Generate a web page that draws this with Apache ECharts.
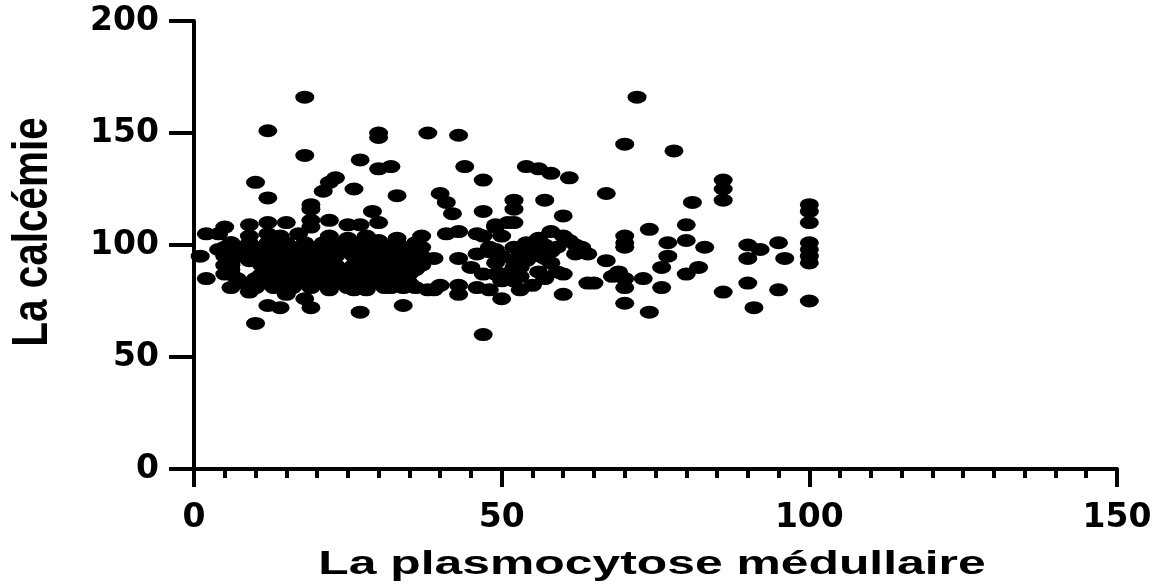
<!DOCTYPE html>
<html>
<head>
<meta charset="utf-8">
<script src="https://cdn.jsdelivr.net/npm/echarts@6/dist/echarts.min.js"></script>
<style>
  html, body { margin: 0; padding: 0; background: #fff; }
  #chart { width: 1163px; height: 587px; }
</style>
</head>
<body>
<div id="chart"></div>
<script>
// axis bounds
const xTicks = [0, 50, 100, 150]
const yTicks = [0, 50, 100, 150, 200]

const xTitle = 'La plasmocytose médullaire'
const yTitle = 'La calcémie'

// [plasmocytose médullaire, calcémie]
const mesuresDroite = [
  [72, 166], [70, 145], [78, 142], [54, 135], [56, 134], [58, 132], [61, 130], [47, 129],
  [86, 129], [86, 125], [86, 120], [67, 123], [81, 119], [52, 120], [52, 116], [52, 110],
  [57, 120], [60, 113], [47, 115],
  [100, 118], [100, 115], [100, 110], [100, 101], [100, 98], [100, 95], [100, 92], [100, 75],
  [80, 109], [74, 107], [80, 102], [77, 101], [83, 99], [77, 95], [76, 90], [82, 90], [80, 87],
  [70, 104], [70, 101], [70, 99], [67, 93], [69, 88], [70, 85], [70, 81], [70, 74], [73, 85],
  [76, 81], [74, 70], [86, 79],
  [90, 100], [92, 98], [95, 101], [90, 94], [96, 94], [90, 83], [95, 80], [91, 72], [65, 83], [47, 60],
  [60, 78], [60, 87], [58, 92], [62, 96], [64, 96], [55, 99], [58, 106], [60, 104], [61, 102], [62, 100],
  [53, 90], [52, 93], [53, 96], [53, 86], [55, 82], [53, 80], [50, 76], [48, 80], [49, 108], [50, 104],
  [47, 104], [48, 99], [49, 98], [50, 95], [49, 92], [50, 87], [47, 87], [52, 84], [52, 89], [68, 86],
  [57, 100], [59, 99], [56, 97], [57, 94],
  [54, 93], [56, 88], [57, 85], [58, 97], [55, 95], [54, 101], [56, 103], [51, 86]
]

const mesuresMilieu = [
  [33, 103], [37, 104], [41, 105], [43, 106], [46, 105], [49, 109], [51, 110], [42, 114],
  [63, 99], [52, 99], [48, 97], [46, 96], [43, 94], [39, 94], [45, 90], [49, 87], [52, 90],
  [59, 88], [64, 83], [50, 84], [46, 81], [43, 82], [40, 82], [38, 80]
]

const mesuresGauche = [
  [18, 166], [12, 151], [30, 150], [30, 148], [38, 150], [43, 149], [18, 140], [27, 138], [30, 134],
  [32, 135], [44, 135], [23, 130], [22, 128], [21, 124], [10, 128], [26, 125], [12, 121], [33, 122],
  [40, 123], [41, 119], [19, 118], [19, 116], [29, 115], [30, 110], [19, 111], [22, 111], [5, 108],
  [9, 109], [2, 105], [4, 105], [12, 110], [15, 110], [25, 109], [27, 109], [6, 101],
  [4, 98], [1, 95], [2, 85], [6, 81], [9, 79], [10, 65], [12, 73], [14, 72], [19, 72], [27, 70],
  [34, 73], [18, 76], [15, 78], [6, 87], [6, 91], [22, 80], [26, 80], [28, 80], [32, 81], [36, 81],
  [39, 80], [43, 78],
  [17, 105], [19, 108], [12, 105], [14, 104], [9, 104], [22, 104], [25, 103], [28, 104], [30, 102]
]

const mesuresCentre = [
  [6, 101], [9, 101], [12, 101], [15, 101], [18, 101], [21, 101], [24, 101], [27, 101], [30, 101], [33, 101], [36, 101],
  [5, 99], [8, 99], [11, 99], [14, 99], [17, 99], [20, 99], [23, 99], [26, 99], [29, 99], [32, 99], [35, 99], [37, 99],
  [6, 97], [9, 97], [12, 97], [15, 97], [18, 97], [21, 97], [24, 97], [27, 97], [30, 97], [33, 97], [36, 97],
  [5, 95], [8, 95], [11, 95], [14, 95], [17, 95], [20, 95], [23, 95], [26, 95], [29, 95], [32, 95], [35, 95], [37, 95],
  [6, 93], [9, 93], [12, 93], [15, 93], [18, 93], [21, 93], [27, 93], [30, 93], [33, 93], [36, 93],
  [5, 91], [11, 91], [14, 91], [17, 91], [20, 91], [23, 91], [26, 91], [29, 91], [32, 91], [35, 91], [37, 91],
  [6, 89], [12, 89], [15, 89], [18, 89], [21, 89], [24, 89], [27, 89], [30, 89], [33, 89], [36, 89],
  [5, 87], [11, 87], [14, 87], [17, 87], [20, 87], [23, 87], [26, 87], [29, 87], [32, 87], [35, 87],
  [7, 85], [10, 85], [13, 85], [16, 85], [19, 85], [22, 85], [25, 85], [28, 85], [31, 85], [34, 85],
  [8, 83], [11, 83], [14, 83], [17, 83], [20, 83], [23, 83], [26, 83], [29, 83], [32, 83], [35, 83],
  [10, 81], [13, 81], [16, 81], [19, 81], [22, 81], [25, 81], [28, 81], [31, 81], [34, 81]
]

const chart = echarts.init(document.getElementById('chart'))

const labelFont = {
  color: '#000',
  fontFamily: 'DejaVu Sans',
  fontWeight: 'bold',
  fontSize: 33,
}

chart.setOption({
  animation: false,
  grid: { left: 194, right: 46, top: 21, bottom: 118, containLabel: false },
  xAxis: {
    type: 'value',
    min: xTicks[0],
    max: xTicks[xTicks.length - 1],
    interval: xTicks[1] - xTicks[0],
    axisLine: { lineStyle: { color: '#000', width: 4 } },
    axisTick: { length: 18, lineStyle: { color: '#000', width: 4 } },
    minorTick: { show: true, splitNumber: 10, length: 9, lineStyle: { color: '#000', width: 4 } },
    splitLine: { show: false },
    axisLabel: { ...labelFont, margin: 33 },
  },
  yAxis: {
    type: 'value',
    min: yTicks[0],
    max: yTicks[yTicks.length - 1],
    interval: yTicks[1] - yTicks[0],
    axisLine: { show: true, lineStyle: { color: '#000', width: 4 } },
    axisTick: { show: true, length: 25, lineStyle: { color: '#000', width: 4 } },
    splitLine: { show: false },
    axisLabel: { ...labelFont, margin: 35 },
  },
  // axis titles: the source image is stretched sideways, hence the scale
  graphic: [
    {
      type: 'text',
      x: 652,
      y: 565,
      scaleX: 1.51,
      style: {
        text: xTitle,
        fill: '#000',
        fontFamily: 'Liberation Sans',
        fontWeight: 'bold',
        fontSize: 33,
        align: 'center',
        verticalAlign: 'middle',
      },
    },
    {
      type: 'text',
      x: 33,
      y: 232,
      rotation: Math.PI / 2,
      scaleX: 0.81,
      style: {
        text: yTitle,
        fill: '#000',
        fontFamily: 'Liberation Sans',
        fontWeight: 'bold',
        fontSize: 50,
        align: 'center',
        verticalAlign: 'middle',
      },
    },
  ],
  series: [
    {
      type: 'scatter',
      symbol: 'circle',
      symbolSize: [19, 13],
      itemStyle: { color: '#000', opacity: 1 },
      data: [...mesuresGauche, ...mesuresCentre, ...mesuresMilieu, ...mesuresDroite],
    },
  ],
})
</script>
</body>
</html>
